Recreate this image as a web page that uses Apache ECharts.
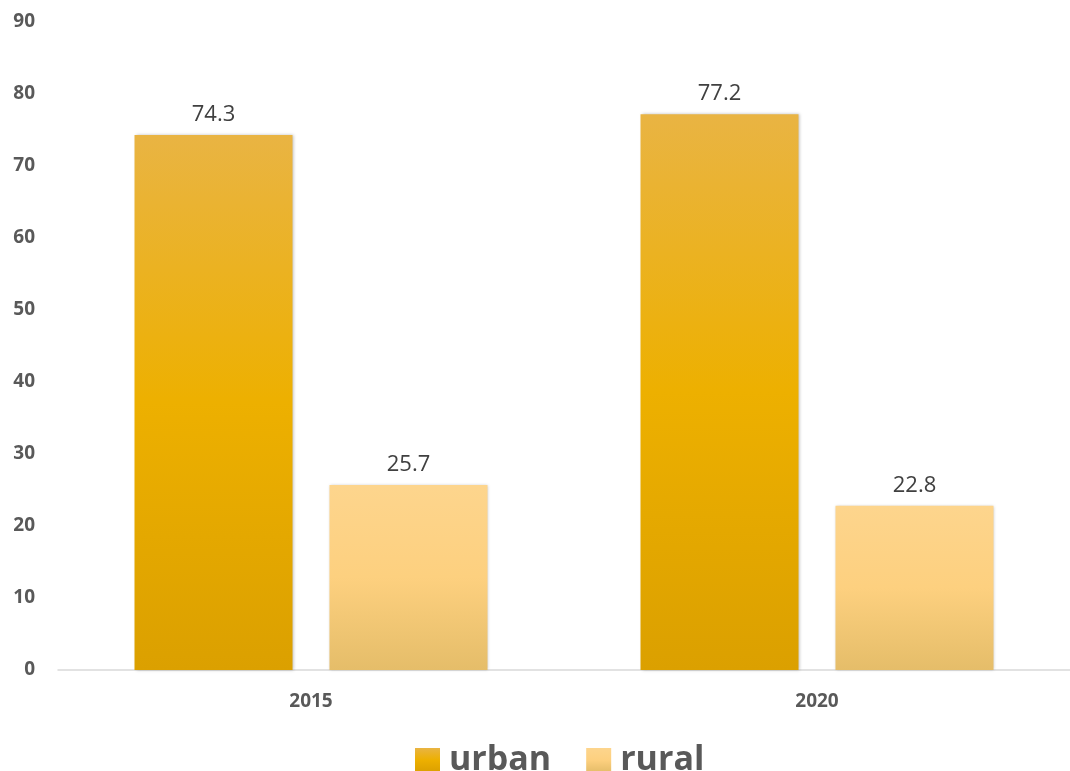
<!DOCTYPE html>
<html>
<head>
<meta charset="utf-8">
<script src="https://cdn.jsdelivr.net/npm/echarts@6/dist/echarts.min.js"></script>
<style>html,body{margin:0;padding:0;background:#fff;}#c{width:1070px;height:771px;}</style>
</head>
<body>
<div id="c"></div>
<script>
var categories = ['2015', '2020'];
var urban = [74.3, 77.2];
var rural = [25.7, 22.8];
var yTicks = [0, 10, 20, 30, 40, 50, 60, 70, 80, 90];

var chart = echarts.init(document.getElementById('c'));
function grad(a, b, c) {
  return new echarts.graphic.LinearGradient(0, 0, 0, 1, [
    {offset: 0, color: a}, {offset: 0.5, color: b}, {offset: 1, color: c}
  ]);
}
var labelStyle = {show: true, position: 'top', distance: 9, color: '#404040', fontSize: 22, fontFamily: 'Open Sans'};
chart.setOption({
  animation: false,
  grid: {left: 58, width: 1023, top: 22, height: 648},
  legend: {
    data: ['urban', 'rural'], top: 738, left: 410, icon: 'rect',
    itemWidth: 25, itemHeight: 24, itemGap: 35,
    textStyle: {fontSize: 34, fontWeight: 'bold', color: '#595959', fontFamily: 'Open Sans', padding: [0, 0, 0, 4]}
  },
  xAxis: {
    type: 'category', data: categories,
    axisLine: {lineStyle: {color: '#d9d9d9', width: 1.5}},
    axisTick: {show: false},
    axisLabel: {fontSize: 19, fontWeight: 'bold', color: '#595959', margin: 22, fontFamily: 'Open Sans'}
  },
  yAxis: {
    type: 'value', min: yTicks[0], max: yTicks[yTicks.length - 1], interval: 10,
    splitLine: {show: false}, axisLine: {show: false}, axisTick: {show: false},
    axisLabel: {fontSize: 19, fontWeight: 'bold', color: '#595959', margin: 23, fontFamily: 'Open Sans'}
  },
  series: [
    {
      name: 'urban', type: 'bar', data: urban, barWidth: 158, barGap: '23.4%',
      itemStyle: {color: grad('#E9B443', '#EDB000', '#DBA000'), shadowColor: 'rgba(0,0,0,0.25)', shadowBlur: 3, shadowOffsetX: 1},
      label: labelStyle
    },
    {
      name: 'rural', type: 'bar', data: rural, barWidth: 158,
      itemStyle: {color: grad('#FDD58D', '#FDD07F', '#E5BD69'), shadowColor: 'rgba(0,0,0,0.25)', shadowBlur: 3, shadowOffsetX: 1},
      label: labelStyle
    }
  ]
});
</script>
</body>
</html>
